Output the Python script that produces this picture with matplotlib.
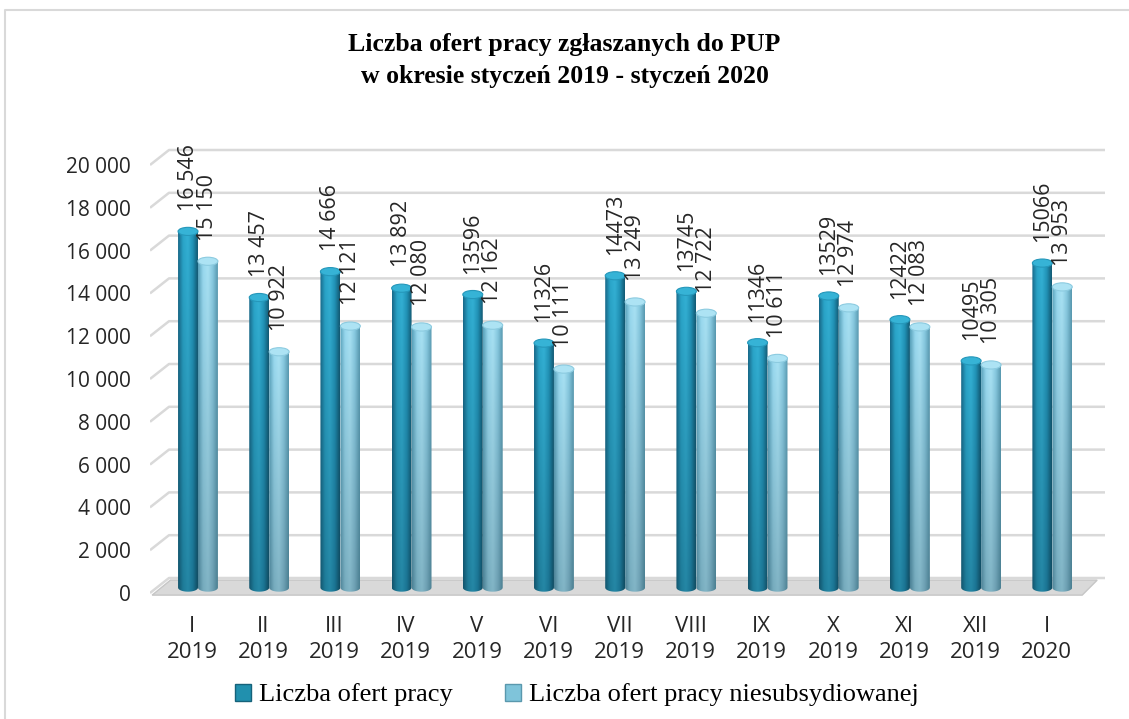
import numpy as np
import matplotlib.pyplot as plt
from matplotlib.patches import Ellipse, Polygon, PathPatch, Rectangle
from matplotlib.path import Path
from matplotlib.colors import to_rgb
from matplotlib.lines import Line2D

# data
months = ["I\n2019", "II\n2019", "III\n2019", "IV\n2019", "V\n2019", "VI\n2019", "VII\n2019",
          "VIII\n2019", "IX\n2019", "X\n2019", "XI\n2019", "XII\n2019", "I\n2020"]
oferty = [16546, 13457, 14666, 13892, 13596, 11326, 14473, 13745, 11346, 13529, 12422, 10495, 15066]
niesub = [15150, 10922, 12121, 12080, 12162, 10111, 13249, 12722, 10611, 12974, 12083, 10305, 13953]
oferty_lbl = ["16 546", "13 457", "14 666", "13 892", "13596", "11326", "14473", "13745",
              "11346", "13529", "12422", "10495", "15066"]
niesub_lbl = ["15 150", "10 922", "12 121", "12 080", "12 162", "10 111", "13 249", "12 722",
              "10 611", "12 974", "12 083", "10 305", "13 953"]
yticks = list(range(0, 20001, 2000))
ytick_lbl = ["0"] + [f"{v // 1000} 000" for v in yticks[1:]]
series_names = ["Liczba ofert pracy", "Liczba ofert pracy niesubsydiowanej"]

# 3d look: depth offset of back wall (data units)
DEPTH_Y = 700
DEPTH_X = 0.267
BAR_W = 0.28
CAP_H = 380
BASE = 250

dark_top = ["#18698a", "#2aa5c9", "#33b0d4", "#2193b7", "#135a74"]
dark_bot = ["#12546c", "#1e7b98", "#2587a5", "#1b7493", "#104c62"]
light_top = ["#5aa3bc", "#98d8ee", "#a8e1f3", "#86c8df", "#5899b0"]
light_bot = ["#4c8195", "#76abbd", "#82b5c6", "#6d9fb2", "#4b7f91"]


def grad_img(top_stops, bot_stops, nx=40, ny=60):
    xs = np.linspace(0, 1, nx)
    pos = np.linspace(0, 1, len(top_stops))
    top = np.stack([np.interp(xs, pos, [to_rgb(c)[k] for c in top_stops]) for k in range(3)], -1)
    bot = np.stack([np.interp(xs, pos, [to_rgb(c)[k] for c in bot_stops]) for k in range(3)], -1)
    t = np.linspace(0, 1, ny)[:, None, None]
    return bot[None] * (1 - t) + top[None] * t


def cylinder(ax, xc, val, img, cap_face, cap_edge):
    x0, x1 = xc - BAR_W / 2, xc + BAR_W / 2
    top = val + DEPTH_Y / 2
    th = np.linspace(np.pi, 2 * np.pi, 20)
    verts = [(x0, top), (x0, BASE)]
    verts += [(xc + BAR_W / 2 * np.cos(a), BASE + CAP_H / 2 * np.sin(a)) for a in th]
    verts += [(x1, top), (x0, top)]
    body = PathPatch(Path(verts, closed=True), facecolor="none", edgecolor="none")
    ax.add_patch(body)
    im = ax.imshow(img, extent=(x0, x1, BASE - CAP_H / 2, top), origin="lower",
                   aspect="auto", interpolation="bicubic", zorder=3)
    im.set_clip_path(body)
    ax.add_patch(Ellipse((xc, top), BAR_W, CAP_H, facecolor=cap_face,
                         edgecolor=cap_edge, lw=0.8, zorder=4))
    return top + CAP_H / 2


fig = plt.figure(figsize=(11.29, 7.19), dpi=100)
ax = fig.add_axes([150 / 1129, 0.1604, 955 / 1129, 0.6449])
xl, xr = -0.674, 12.74
ax.set_xlim(xl, xr)
ax.set_ylim(-500, 21168)

# gridlines on the back wall with slanted side
for v in yticks:
    ax.plot([xl, xl + DEPTH_X, xr], [v, v + DEPTH_Y, v + DEPTH_Y],
            color="#d9d9d9", lw=1.8, zorder=1, solid_capstyle="butt")

# floor
ax.add_patch(Polygon([(xl + 0.03, -100), (xl + DEPTH_X + 0.02, DEPTH_Y - 100),
                      (12.63, DEPTH_Y - 100), (12.42, -100)],
                     closed=True, facecolor="#d9d9d9", edgecolor="#c6c6c6", lw=1, zorder=2))

img_d = grad_img(dark_top, dark_bot)
img_l = grad_img(light_top, light_bot)
x = np.arange(len(months))
for i in x:
    t1 = cylinder(ax, i - BAR_W / 2, oferty[i], img_d, "#36b3d6", "#2597ba")
    t2 = cylinder(ax, i + BAR_W / 2, niesub[i], img_l, "#ade3f4", "#8ccbe0")
    ax.annotate(oferty_lbl[i], (i - BAR_W / 2, t1), xytext=(0, 12), textcoords="offset points",
                rotation=90, ha="center", va="bottom", fontsize=15.5, family="Open Sans",
                color="#262626", zorder=5)
    ax.annotate(niesub_lbl[i], (i + BAR_W / 2, t2), xytext=(0, 12), textcoords="offset points",
                rotation=90, ha="center", va="bottom", fontsize=15.5, family="Open Sans",
                color="#262626", zorder=5)

ax.set_yticks(yticks)
ax.set_yticklabels(ytick_lbl, fontsize=15, family="Open Sans", color="#262626")
ax.set_xticks(x - 0.08)
ax.set_xticklabels(months, fontsize=16, family="Open Sans", color="#262626", linespacing=1.3)
ax.tick_params(length=0)
ax.tick_params(axis="y", pad=14)
ax.tick_params(axis="x", pad=9)
for s in ax.spines.values():
    s.set_visible(False)

fig.text(0.5, 1 - 45 / 719, "Liczba ofert pracy zgłaszanych do PUP", ha="center", va="center",
         fontsize=18.5, fontweight="bold", family="Liberation Serif")
fig.text(0.5, 1 - 76 / 719, "w okresie styczeń 2019 - styczeń 2020", ha="center", va="center",
         fontsize=18.5, fontweight="bold", family="Liberation Serif")

handles = [Rectangle((0, 0), 1, 1, facecolor="#2190ae", edgecolor="#16627a"),
           Rectangle((0, 0), 1, 1, facecolor="#7fc4da", edgecolor="#5a98ad")]
fig.legend(handles, series_names, loc="center", bbox_to_anchor=(577 / 1129, 1 - 695 / 719),
           ncol=2, frameon=False, prop={"family": "Liberation Serif", "size": 19},
           handlelength=0.6, handleheight=0.6, handletextpad=0.3, columnspacing=2.0)

# chart frame (top and left edges visible)
fig.add_artist(Line2D([5 / 1129, 5 / 1129, 1], [0, 1 - 10 / 719, 1 - 10 / 719],
                      transform=fig.transFigure, color="#d9d9d9", lw=1.5))

fig.savefig("out.png", dpi=100)
